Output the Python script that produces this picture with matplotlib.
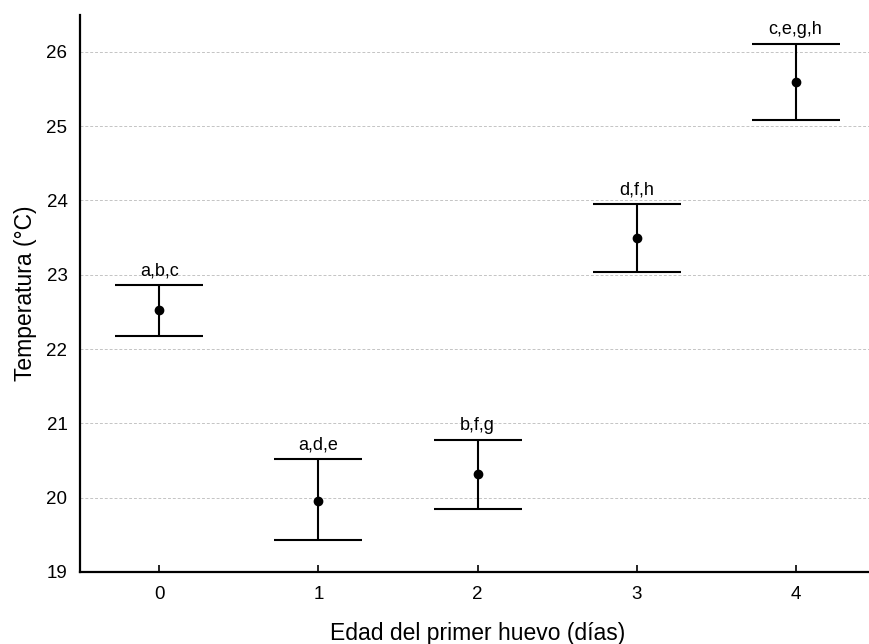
import matplotlib
matplotlib.use("Agg")
import matplotlib.pyplot as plt

plt.rcParams["font.family"] = ["Liberation Sans", "DejaVu Sans"]

# Edad del primer huevo (días) vs temperatura media con intervalos
edad = [0, 1, 2, 3, 4]
media = [22.52, 19.96, 20.32, 23.49, 25.60]
sup = [22.865, 20.515, 20.78, 23.95, 26.11]
inf = [22.175, 19.43, 19.84, 23.04, 25.09]
letras = ["a,b,c", "a,d,e", "b,f,g", "d,f,h", "c,e,g,h"]

err_lo = [m - i for m, i in zip(media, inf)]
err_hi = [s - m for m, s in zip(media, sup)]

fig = plt.figure(figsize=(8.69, 6.44), dpi=100)
ax = fig.add_axes([0.092, 0.112, 0.915, 0.865])

ax.errorbar(edad, media, yerr=[err_lo, err_hi], fmt="o", color="black",
            ms=6, elinewidth=1.5, capsize=32, capthick=1.5, zorder=3)

for x, s, t in zip(edad, sup, letras):
    ax.text(x, s + 0.13, t, ha="center", va="baseline", fontsize=13)

ax.set_xlim(-0.5, 4.5)
ax.set_ylim(19, 26.5)
ax.set_xticks(edad)
ax.set_yticks(range(19, 27))

ax.grid(axis="y", color="#c4c4c4", linestyle="--", linewidth=0.7, dashes=(3, 2))
ax.set_axisbelow(True)

for side in ["top", "right"]:
    ax.spines[side].set_visible(False)
for side in ["left", "bottom"]:
    ax.spines[side].set_linewidth(1.6)

ax.tick_params(axis="x", direction="in", length=5, width=1.2, labelsize=13.5, pad=10)
ax.tick_params(axis="y", direction="in", length=0, labelsize=13.5, pad=9)

ax.set_xlabel("Edad del primer huevo (días)", fontsize=16.5, labelpad=14)
ax.set_ylabel("Temperatura (°C)", fontsize=16.5)
ax.yaxis.set_label_coords(-0.054, 0.5)

fig.savefig("out.png", dpi=100)
